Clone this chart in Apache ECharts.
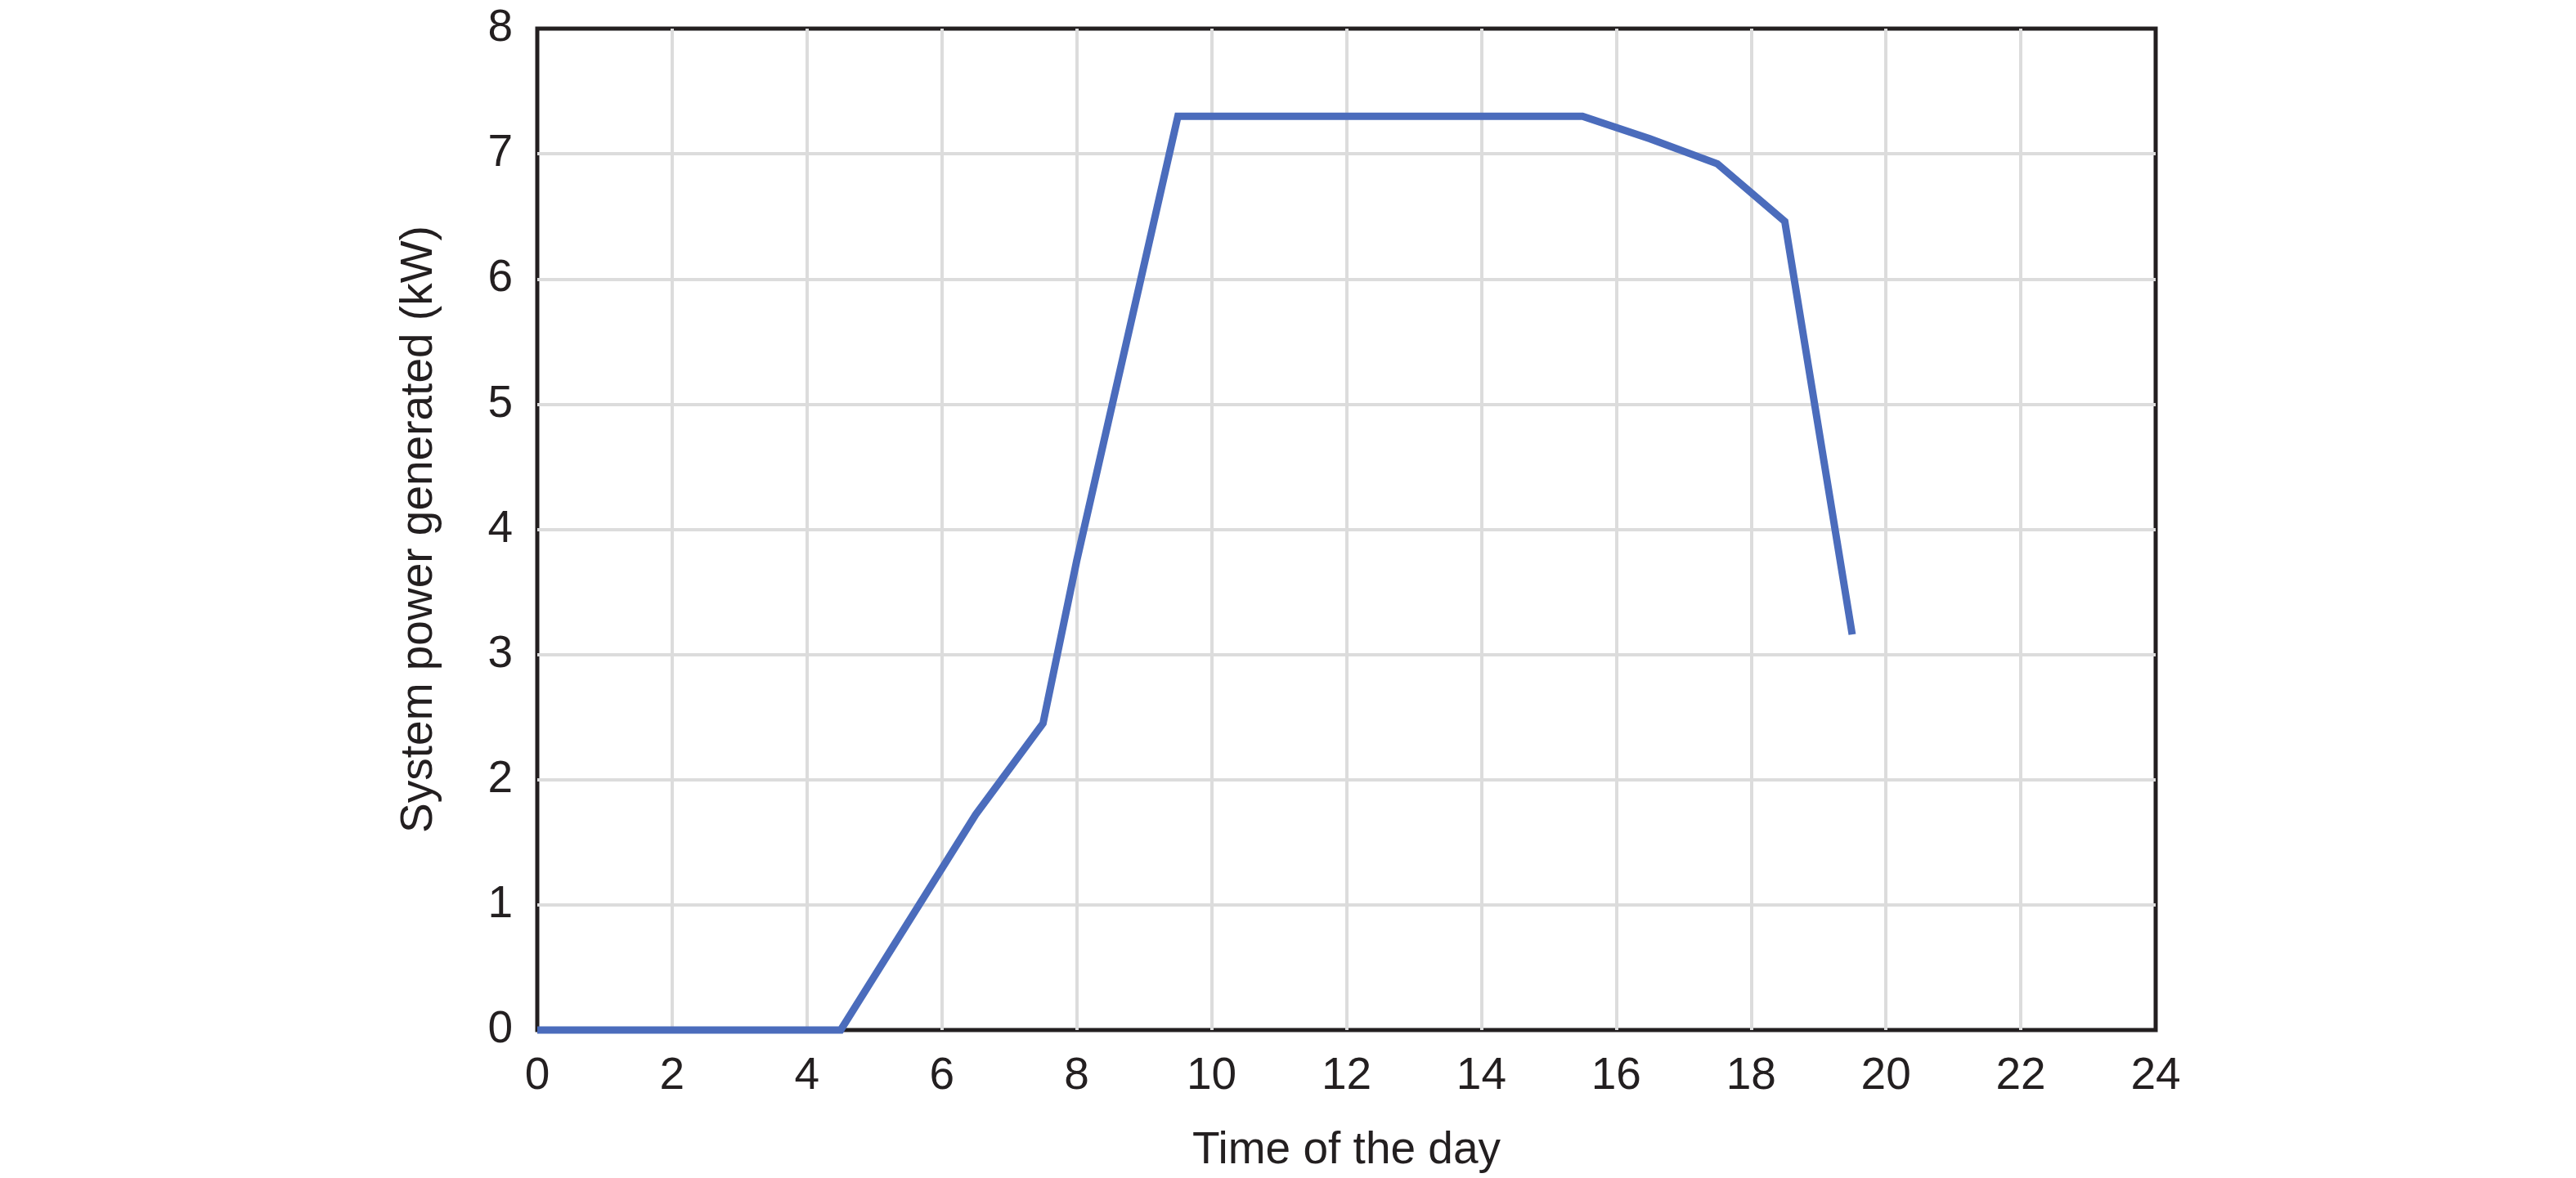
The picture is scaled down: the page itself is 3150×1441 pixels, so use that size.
<!DOCTYPE html>
<html>
<head>
<meta charset="utf-8">
<script src="https://cdn.jsdelivr.net/npm/echarts@6/dist/echarts.min.js"></script>
<style>
html,body{margin:0;padding:0;background:#fff;}
#chart{width:3150px;height:1441px;}
</style>
</head>
<body>
<div id="chart"></div>
<script>
// Data
const hours = [0, 4.5, 6.5, 7.5, 8, 9.5, 15.5, 16.5, 17.5, 18.5, 19.5];
const powerKW = [0, 0, 1.72, 2.45, 3.75, 7.3, 7.3, 7.12, 6.92, 6.46, 3.16];
const xTitle = 'Time of the day';
const yTitle = 'System power generated (kW)';

const seriesData = hours.map((h, i) => [h, powerKW[i]]);
const font = '"Liberation Sans", Arial, Helvetica, sans-serif';
const textColor = '#231f20';

const chart = echarts.init(document.getElementById('chart'), null, {renderer: 'canvas'});
chart.setOption({
  animation: false,
  backgroundColor: '#ffffff',
  grid: {
    left: 657, right: 514, top: 35, bottom: 181,
    show: true, borderColor: '#231f20', borderWidth: 5, backgroundColor: 'transparent'
  },
  xAxis: {
    type: 'value', min: 0, max: 24, interval: 2,
    name: xTitle, nameLocation: 'middle', nameGap: 120,
    nameTextStyle: {fontFamily: font, fontSize: 55, color: textColor},
    axisLine: {show: false}, axisTick: {show: false},
    axisLabel: {fontFamily: font, fontSize: 55, color: textColor, margin: 29},
    splitLine: {show: true, showMinLine: false, showMaxLine: false, lineStyle: {color: '#dcdcdc', width: 4}}
  },
  yAxis: {
    type: 'value', min: 0, max: 8, interval: 1,
    name: yTitle, nameLocation: 'middle', nameGap: 117,
    nameTextStyle: {fontFamily: font, fontSize: 55, color: textColor},
    axisLine: {show: false}, axisTick: {show: false},
    axisLabel: {fontFamily: font, fontSize: 55, color: textColor, margin: 30},
    splitLine: {show: true, showMinLine: false, showMaxLine: false, lineStyle: {color: '#dcdcdc', width: 4}}
  },
  series: [{
    type: 'line',
    data: seriesData,
    showSymbol: false,
    clip: false,
    lineStyle: {color: '#4b6cbc', width: 9, cap: 'butt', join: 'miter'},
    z: 3
  }]
});
</script>
</body>
</html>
